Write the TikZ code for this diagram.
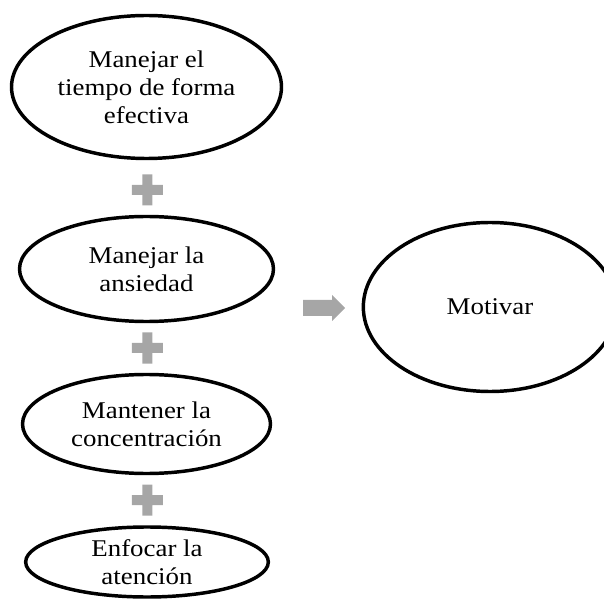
\documentclass[tikz,border=0pt]{standalone}
\usepackage{fontspec}
\setmainfont{Liberation Serif}[FakeStretch=1.12]
\usetikzlibrary{shapes.geometric}
\definecolor{plusgray}{HTML}{A6A6A6}
\tikzset{
  oval/.style={ellipse, draw=black, line width=2.6pt, inner sep=0pt, align=center,
    font=\fontsize{18pt}{21pt}\selectfont},
  pics/plussign/.style={code={
    \fill[plusgray] (-5,-15.5) -- (5,-15.5) -- (5,-5) -- (15.5,-5) -- (15.5,5) -- (5,5)
      -- (5,15.5) -- (-5,15.5) -- (-5,5) -- (-15.5,5) -- (-15.5,-5) -- (-5,-5) -- cycle;
  }}
}
\begin{document}
\begin{tikzpicture}[x=0.75pt,y=-0.75pt]
\path[use as bounding box] (0,0) rectangle (604,599);
\node[oval, minimum width=202.5pt, minimum height=107.25pt] (e1) at (146.5,87)
  {Manejar el\\tiempo de forma\\efectiva};
\node[oval, minimum width=190.5pt, minimum height=78.75pt] (e2) at (146.5,269)
  {Manejar la\\ansiedad};
\node[oval, minimum width=186pt, minimum height=74.25pt] (e3) at (146.5,424)
  {Mantener la\\concentración};
\node[oval, minimum width=182pt, minimum height=52.5pt] (e4) at (147,562)
  {Enfocar la\\atención};
\node[oval, minimum width=190pt, minimum height=126.75pt] (e5) at (490,307)
  {Motivar};
\coordinate (p1) at (147.3,190);
\coordinate (p2) at (147.3,348);
\coordinate (p3) at (147.3,500);
\pic at (p1) {plussign};
\pic at (p2) {plussign};
\pic at (p3) {plussign};
\coordinate (arr) at (303,308);
\fill[plusgray] (arr) ++(0,-8) -- ++(29,0) -- ++(0,-5) -- ++(13,13) -- ++(-13,13)
  -- ++(0,-5) -- ++(-29,0) -- cycle;
\end{tikzpicture}
\end{document}
